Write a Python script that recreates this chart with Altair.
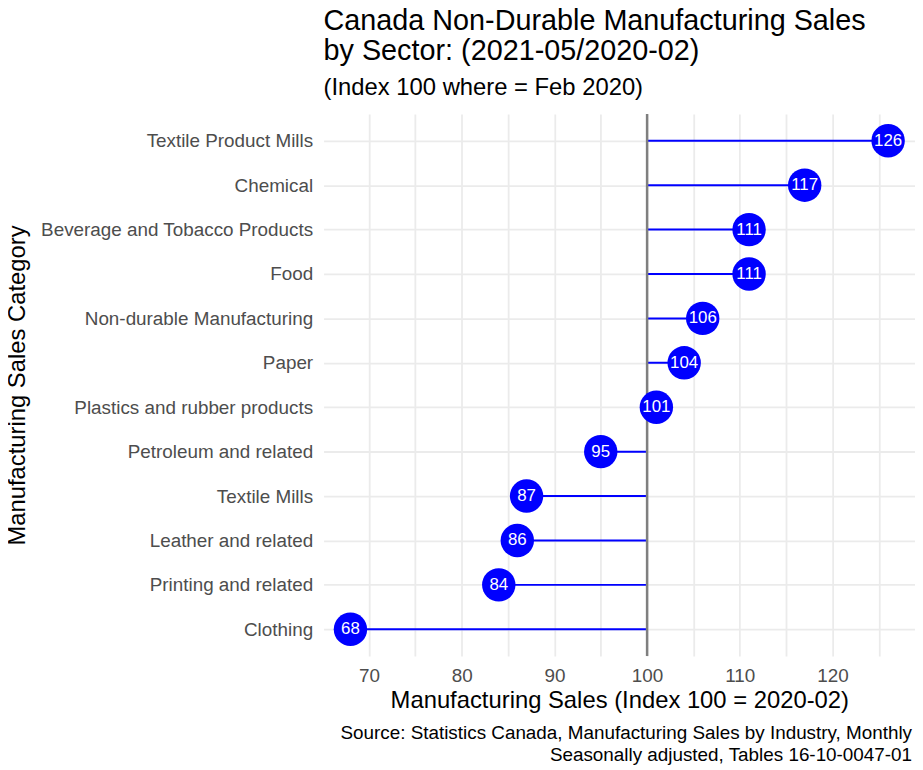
import altair as alt
import pandas as pd

categories = [
    "Textile Product Mills", "Chemical", "Beverage and Tobacco Products", "Food",
    "Non-durable Manufacturing", "Paper", "Plastics and rubber products",
    "Petroleum and related", "Textile Mills", "Leather and related",
    "Printing and related", "Clothing",
]
values = [126, 117, 111, 111, 106, 104, 101, 95, 87, 86, 84, 68]
reference = [100]
major_ticks = [70, 80, 90, 100, 110, 120]
grid_ticks = [65, 70, 75, 80, 85, 90, 95, 100, 105, 110, 115, 120, 125]
title_lines = ["Canada Non-Durable Manufacturing Sales", "by Sector: (2021-05/2020-02)"]
subtitle_text = "(Index 100 where = Feb 2020)"
x_title = "Manufacturing Sales (Index 100 = 2020-02)"
y_title = "Manufacturing Sales Category"
caption_lines = [
    "Source: Statistics Canada, Manufacturing Sales by Industry, Monthly",
    "Seasonally adjusted, Tables 16-10-0047-01",
]

W, H = 596, 546
LEFT = 318
FONT = "Liberation Sans"

df = pd.DataFrame({"category": categories, "value": values,
                   "base": reference * len(values)})
ref_df = pd.DataFrame({"ref": reference})
cap_df = pd.DataFrame({"caption": ["\n".join(caption_lines)]})

span = max(values) - min(values)
x_scale = alt.Scale(domain=[min(values) - 0.05 * span, max(values) + 0.05 * span],
                    nice=False, zero=False)
label_expr = "indexof([" + ",".join(str(v) for v in major_ticks) + "], datum.value) >= 0 ? datum.label : ''"

x_enc = alt.X("value:Q", scale=x_scale, title=x_title,
              axis=alt.Axis(values=grid_ticks, labelExpr=label_expr, grid=True,
                            gridColor="#EBEBEB", gridWidth=1.8, ticks=False, domain=False,
                            labelFontSize=19, labelColor="#4D4D4D", labelPadding=11,
                            labelFlush=False,
                            titleFontSize=24, titleFontWeight="normal", titleColor="black",
                            titlePadding=3))
y_enc = alt.Y("category:N", sort=categories, title=y_title,
              scale=alt.Scale(type="point", padding=0.6),
              axis=alt.Axis(grid=True, gridColor="#EBEBEB", gridWidth=1.8, ticks=False,
                            domain=False, labelFontSize=19, labelColor="#4D4D4D",
                            labelLimit=400, labelPadding=11, titleFontSize=24,
                            titleFontWeight="normal", titleColor="black",
                            titleX=-(LEFT - 10), titleY=H / 2, titleAngle=270,
                            titleAlign="center", titleBaseline="middle"))

base = alt.Chart(df)

segments = base.mark_rule(color="blue", strokeWidth=2).encode(
    x=x_enc, x2="base:Q", y=y_enc)

vline = alt.Chart(ref_df).mark_rule(color="#7F7F7F", strokeWidth=2.5).encode(
    x=alt.X("ref:Q", scale=x_scale))

circles = base.mark_circle(size=1134, color="blue", opacity=1).encode(
    x=alt.X("value:Q", scale=x_scale), y=alt.Y("category:N", sort=categories))

labels = base.mark_text(color="white", fontSize=17, font=FONT).encode(
    x=alt.X("value:Q", scale=x_scale), y=alt.Y("category:N", sort=categories),
    text="value:Q")

caption = alt.Chart(cap_df).mark_text(
    align="right", baseline="alphabetic", fontSize=19, font=FONT, color="black",
    lineBreak="\n", lineHeight=22,
).encode(x=alt.value(W - 3), y=alt.value(H + 84), text="caption:N")

chart = alt.layer(segments, vline, circles, labels, caption).properties(
    width=W, height=H,
    autosize=alt.AutoSizeParams(type="none"),
    padding={"left": LEFT, "top": 104, "right": 0, "bottom": 110},
    title=alt.TitleParams(
        text=title_lines, subtitle=subtitle_text, anchor="start", frame="group",
        fontSize=29, fontWeight="normal", font=FONT, color="black", lineHeight=31,
        subtitleFontSize=24, subtitleFont=FONT, subtitleColor="black",
        subtitlePadding=10, offset=13,
    ),
).configure(font=FONT).configure_view(stroke=None)

chart.save("out.html", embed_options={"renderer": "svg", "actions": False})
